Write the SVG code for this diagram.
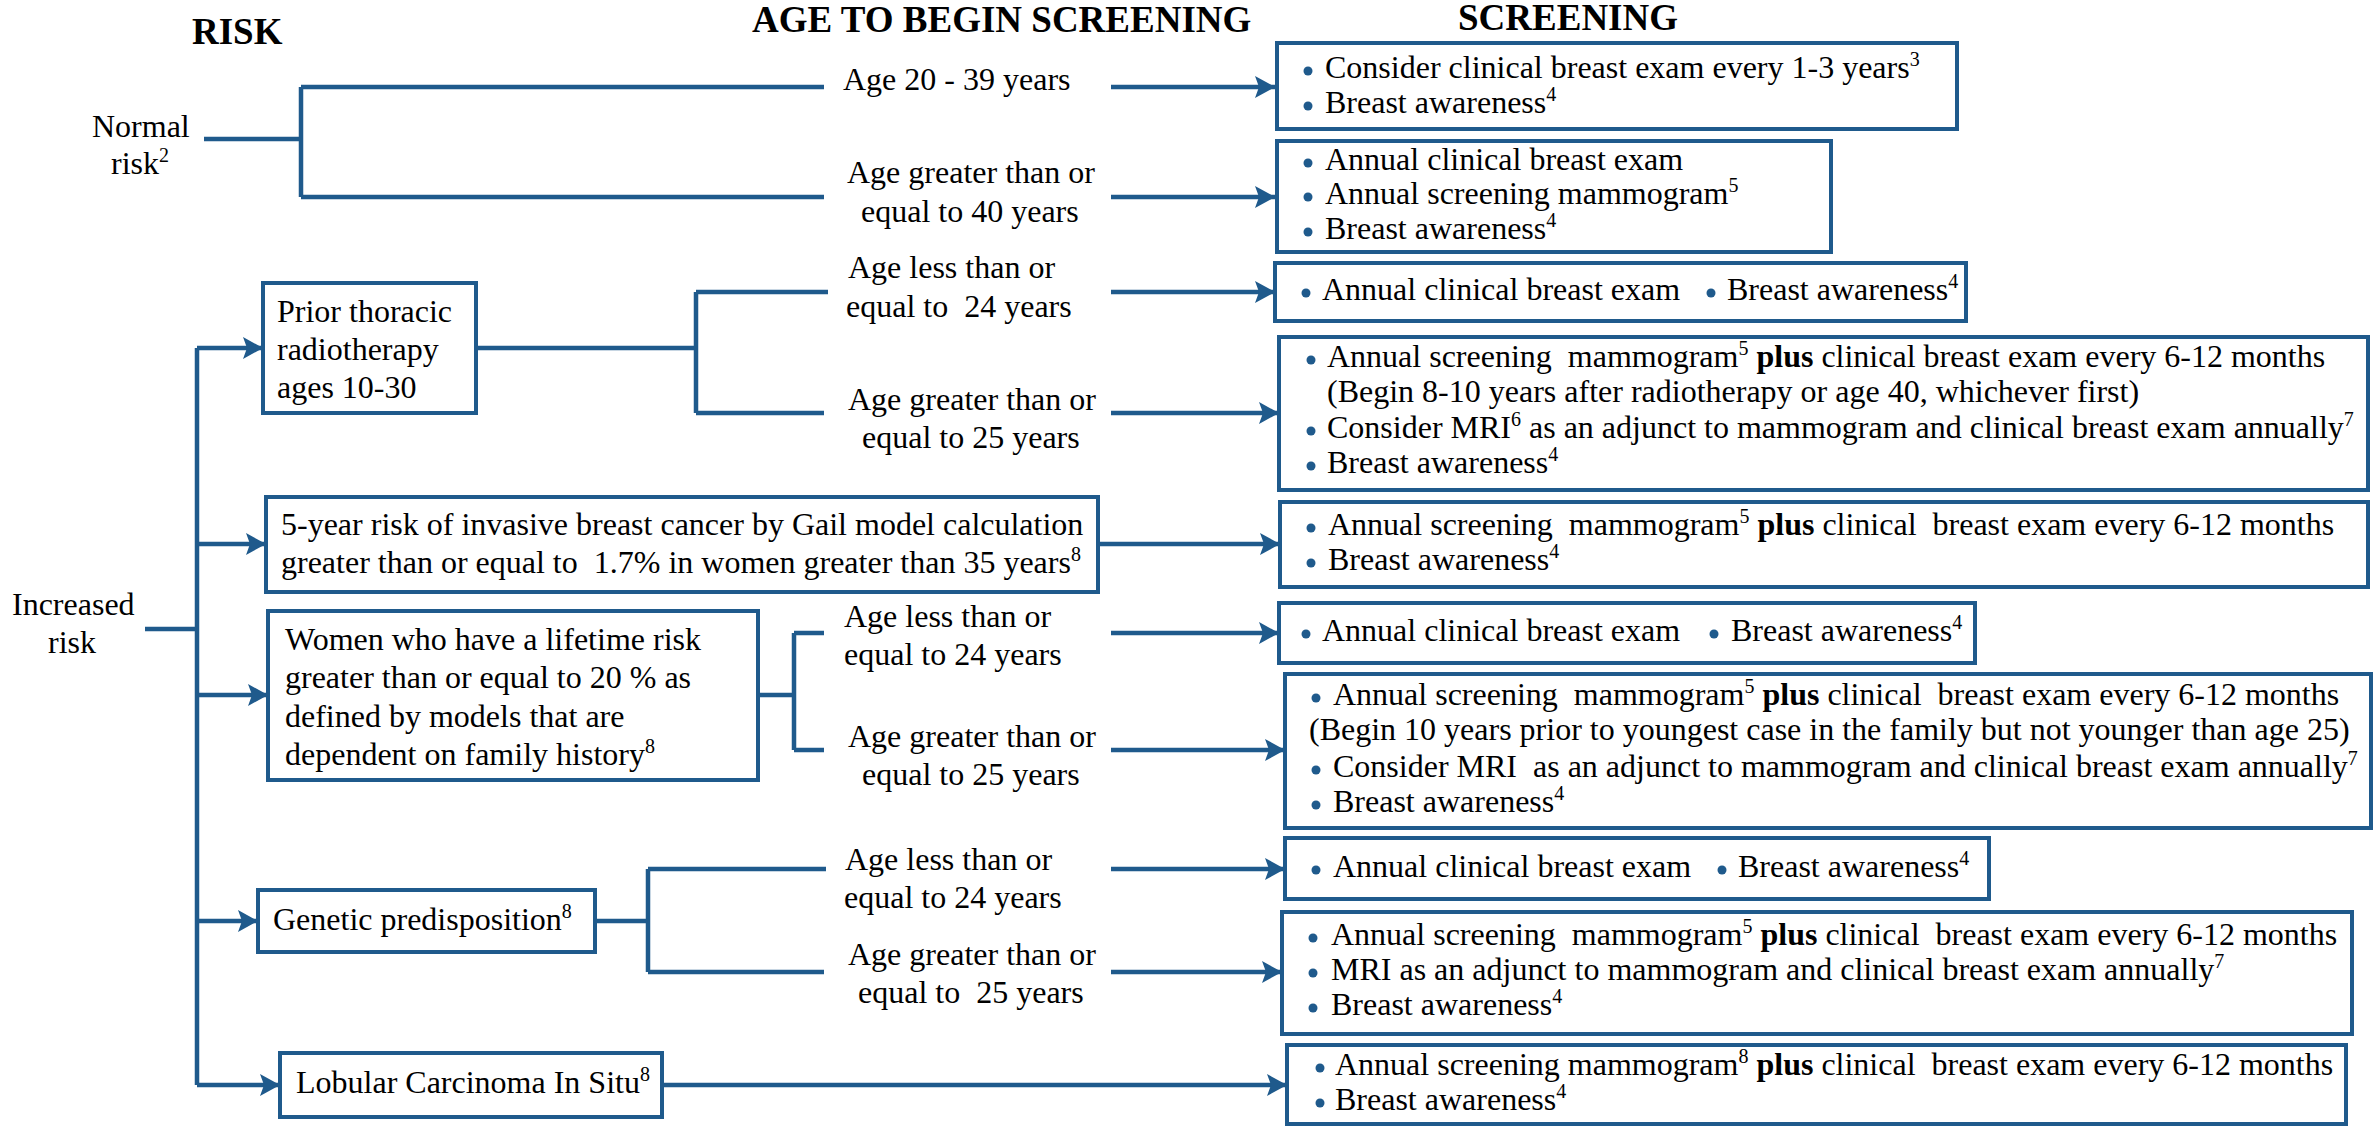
<svg xmlns="http://www.w3.org/2000/svg" width="2379" height="1127" viewBox="0 0 2379 1127" xml:space="preserve">
<defs>
<style>
text { font-family: "Liberation Serif", "Times New Roman", serif; font-size: 32px; fill: #000; white-space: pre; }
.h { font-weight: bold; font-size: 37px; }
.sup { font-size: 20px; }
.bold { font-weight: bold; }
.box { fill: #fff; stroke: #1f5a8c; stroke-width: 4; }
.ln { fill: none; stroke: #1f5a8c; stroke-width: 4.5; }
.ar { fill: none; stroke: #1f5a8c; stroke-width: 4.5; marker-end: url(#ah); }
.b { fill: #1f5a8c; }
</style>
<marker id="ah" markerWidth="22" markerHeight="22" refX="20" refY="11" orient="auto" markerUnits="userSpaceOnUse">
<path d="M0,0 L20,11 L0,22 L4,11 z" fill="#1f5a8c"/>
</marker>
</defs>
<rect width="2379" height="1127" fill="#fff"/>

<g id="headers">
<text class="h" x="192" y="44">RISK</text>
<text class="h" x="752" y="32">AGE TO BEGIN SCREENING</text>
<text class="h" x="1458" y="30">SCREENING</text>
</g>

<g id="connectors">
<path class="ln" d="M204,139 H301 M301,87 V197 M301,87 H824 M301,197 H824"/>
<path class="ar" d="M1111,87 H1275"/>
<path class="ar" d="M1111,197 H1275"/>
<path class="ln" d="M145,629 H197 M197,348 V1085"/>
<path class="ar" d="M197,348 H263"/>
<path class="ar" d="M197,544 H266"/>
<path class="ar" d="M197,695 H268"/>
<path class="ar" d="M197,921 H258"/>
<path class="ar" d="M197,1085 H280"/>
<path class="ln" d="M476,348 H696 M696,292 V413 M696,292 H828 M696,413 H824"/>
<path class="ar" d="M1111,292 H1275"/>
<path class="ar" d="M1111,413 H1279"/>
<path class="ar" d="M1098,544 H1280"/>
<path class="ln" d="M758,695 H794 M794,633 V750 M794,633 H824 M794,750 H824"/>
<path class="ar" d="M1111,633 H1279"/>
<path class="ar" d="M1111,750 H1285"/>
<path class="ln" d="M595,921 H648 M648,869 V972 M648,869 H826 M648,972 H824"/>
<path class="ar" d="M1111,869 H1285"/>
<path class="ar" d="M1111,972 H1282"/>
<path class="ar" d="M662,1085 H1287"/>
</g>

<g id="normal-risk">
<text x="92" y="137">Normal</text>
<text x="111" y="174">risk<tspan class="sup" dy="-12">2</tspan></text>
</g>
<g id="increased-risk">
<text x="12" y="615">Increased</text>
<text x="48" y="653">risk</text>
</g>

<g id="prior-thoracic">
<rect class="box" x="263" y="283" width="213" height="130"/>
<text x="277" y="322">Prior thoracic</text>
<text x="277" y="360">radiotherapy</text>
<text x="277" y="398">ages 10-30</text>
</g>
<g id="gail">
<rect class="box" x="266" y="497" width="832" height="95"/>
<text x="281" y="535">5-year risk of invasive breast cancer by Gail model calculation</text>
<text x="281" y="573">greater than or equal to  1.7% in women greater than 35 years<tspan class="sup" dy="-12">8</tspan></text>
</g>
<g id="lifetime">
<rect class="box" x="268" y="611" width="490" height="169"/>
<text x="285" y="650">Women who have a lifetime risk</text>
<text x="285" y="688">greater than or equal to 20 % as</text>
<text x="285" y="727">defined by models that are</text>
<text x="285" y="765">dependent on family history<tspan class="sup" dy="-12">8</tspan></text>
</g>
<g id="genetic">
<rect class="box" x="258" y="890" width="337" height="62"/>
<text x="273" y="930">Genetic predisposition<tspan class="sup" dy="-12">8</tspan></text>
</g>
<g id="lcis">
<rect class="box" x="280" y="1053" width="382" height="64"/>
<text x="296" y="1093">Lobular Carcinoma In Situ<tspan class="sup" dy="-12">8</tspan></text>
</g>

<g id="age-normal-lt40">
<text x="843" y="90">Age 20 - 39 years</text>
</g>
<g id="age-normal-ge40">
<text x="847" y="183">Age greater than or</text>
<text x="861" y="222">equal to 40 years</text>
</g>
<g id="age-prior-le24">
<text x="848" y="278">Age less than or</text>
<text x="846" y="317">equal to  24 years</text>
</g>
<g id="age-prior-ge25">
<text x="848" y="410">Age greater than or</text>
<text x="862" y="448">equal to 25 years</text>
</g>
<g id="age-lifetime-le24">
<text x="844" y="627">Age less than or</text>
<text x="844" y="665">equal to 24 years</text>
</g>
<g id="age-lifetime-ge25">
<text x="848" y="747">Age greater than or</text>
<text x="862" y="785">equal to 25 years</text>
</g>
<g id="age-genetic-le24">
<text x="845" y="870">Age less than or</text>
<text x="844" y="908">equal to 24 years</text>
</g>
<g id="age-genetic-ge25">
<text x="848" y="965">Age greater than or</text>
<text x="858" y="1003">equal to  25 years</text>
</g>

<g id="scr-normal-lt40">
<rect class="box" x="1277" y="43" width="680" height="86"/>
<circle class="b" cx="1308" cy="71" r="4.5"/>
<text x="1325" y="78">Consider clinical breast exam every 1-3 years<tspan class="sup" dy="-12">3</tspan></text>
<circle class="b" cx="1308" cy="106" r="4.5"/>
<text x="1325" y="113">Breast awareness<tspan class="sup" dy="-12">4</tspan></text>
</g>
<g id="scr-normal-ge40">
<rect class="box" x="1277" y="141" width="554" height="111"/>
<circle class="b" cx="1308" cy="163" r="4.5"/>
<text x="1325" y="170">Annual clinical breast exam</text>
<circle class="b" cx="1308" cy="197" r="4.5"/>
<text x="1325" y="204">Annual screening mammogram<tspan class="sup" dy="-12">5</tspan></text>
<circle class="b" cx="1308" cy="232" r="4.5"/>
<text x="1325" y="239">Breast awareness<tspan class="sup" dy="-12">4</tspan></text>
</g>
<g id="scr-prior-le24">
<rect class="box" x="1275" y="263" width="691" height="58"/>
<circle class="b" cx="1306" cy="293" r="4.5"/>
<text x="1322" y="300">Annual clinical breast exam</text>
<circle class="b" cx="1711" cy="293" r="4.5"/>
<text x="1727" y="300">Breast awareness<tspan class="sup" dy="-12">4</tspan></text>
</g>
<g id="scr-prior-ge25">
<rect class="box" x="1279" y="337" width="1089" height="153"/>
<circle class="b" cx="1311" cy="360" r="4.5"/>
<text x="1327" y="367">Annual screening  mammogram<tspan class="sup" dy="-12">5</tspan><tspan dy="12"> </tspan><tspan class="bold">plus</tspan> clinical breast exam every 6-12 months</text>
<text x="1327" y="402">(Begin 8-10 years after radiotherapy or age 40, whichever first)</text>
<circle class="b" cx="1311" cy="431" r="4.5"/>
<text x="1327" y="438">Consider MRI<tspan class="sup" dy="-12">6</tspan><tspan dy="12"> as an adjunct to mammogram and clinical breast exam annually</tspan><tspan class="sup" dy="-12">7</tspan></text>
<circle class="b" cx="1311" cy="466" r="4.5"/>
<text x="1327" y="473">Breast awareness<tspan class="sup" dy="-12">4</tspan></text>
</g>
<g id="scr-gail">
<rect class="box" x="1280" y="502" width="1088" height="85"/>
<circle class="b" cx="1311" cy="528" r="4.5"/>
<text x="1328" y="535">Annual screening  mammogram<tspan class="sup" dy="-12">5</tspan><tspan dy="12"> </tspan><tspan class="bold">plus</tspan> clinical  breast exam every 6-12 months</text>
<circle class="b" cx="1311" cy="563" r="4.5"/>
<text x="1328" y="570">Breast awareness<tspan class="sup" dy="-12">4</tspan></text>
</g>
<g id="scr-lifetime-le24">
<rect class="box" x="1279" y="603" width="696" height="60"/>
<circle class="b" cx="1306" cy="634" r="4.5"/>
<text x="1322" y="641">Annual clinical breast exam</text>
<circle class="b" cx="1714" cy="634" r="4.5"/>
<text x="1731" y="641">Breast awareness<tspan class="sup" dy="-12">4</tspan></text>
</g>
<g id="scr-lifetime-ge25">
<rect class="box" x="1285" y="674" width="1086" height="154"/>
<circle class="b" cx="1316" cy="698" r="4.5"/>
<text x="1333" y="705">Annual screening  mammogram<tspan class="sup" dy="-12">5</tspan><tspan dy="12"> </tspan><tspan class="bold">plus</tspan> clinical  breast exam every 6-12 months</text>
<text x="1309" y="740">(Begin 10 years prior to youngest case in the family but not younger than age 25)</text>
<circle class="b" cx="1316" cy="770" r="4.5"/>
<text x="1333" y="777">Consider MRI  as an adjunct to mammogram and clinical breast exam annually<tspan class="sup" dy="-12">7</tspan></text>
<circle class="b" cx="1316" cy="805" r="4.5"/>
<text x="1333" y="812">Breast awareness<tspan class="sup" dy="-12">4</tspan></text>
</g>
<g id="scr-genetic-le24">
<rect class="box" x="1285" y="838" width="704" height="61"/>
<circle class="b" cx="1316" cy="870" r="4.5"/>
<text x="1333" y="877">Annual clinical breast exam</text>
<circle class="b" cx="1722" cy="870" r="4.5"/>
<text x="1738" y="877">Breast awareness<tspan class="sup" dy="-12">4</tspan></text>
</g>
<g id="scr-genetic-ge25">
<rect class="box" x="1282" y="912" width="1070" height="122"/>
<circle class="b" cx="1313" cy="938" r="4.5"/>
<text x="1331" y="945">Annual screening  mammogram<tspan class="sup" dy="-12">5</tspan><tspan dy="12"> </tspan><tspan class="bold">plus</tspan> clinical  breast exam every 6-12 months</text>
<circle class="b" cx="1313" cy="973" r="4.5"/>
<text x="1331" y="980">MRI as an adjunct to mammogram and clinical breast exam annually<tspan class="sup" dy="-12">7</tspan></text>
<circle class="b" cx="1313" cy="1008" r="4.5"/>
<text x="1331" y="1015">Breast awareness<tspan class="sup" dy="-12">4</tspan></text>
</g>
<g id="scr-lcis">
<rect class="box" x="1287" y="1045" width="1059" height="79"/>
<circle class="b" cx="1320" cy="1068" r="4.5"/>
<text x="1335" y="1075">Annual screening mammogram<tspan class="sup" dy="-12">8</tspan><tspan dy="12"> </tspan><tspan class="bold">plus</tspan> clinical  breast exam every 6-12 months</text>
<circle class="b" cx="1320" cy="1103" r="4.5"/>
<text x="1335" y="1110">Breast awareness<tspan class="sup" dy="-12">4</tspan></text>
</g>
</svg>
